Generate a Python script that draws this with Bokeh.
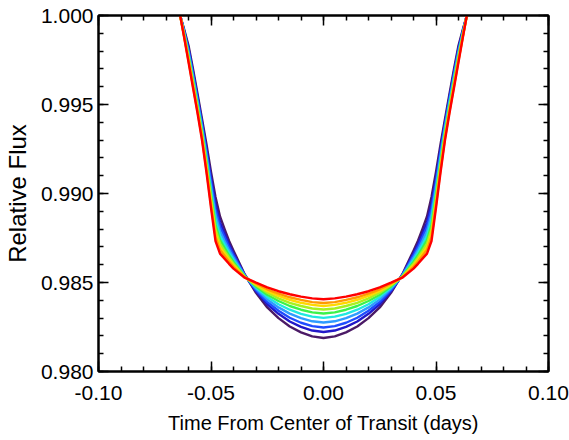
from bokeh.plotting import figure
from bokeh.models import Range1d, LinearAxis, SingleIntervalTicker, NumeralTickFormatter, CustomJSTickFormatter
from bokeh.embed import file_html
from bokeh.resources import INLINE

# Time from centre of transit (days)
time = [-0.0637, -0.062, -0.060, -0.058, -0.056, -0.054, -0.052, -0.050, -0.048, -0.046,
        -0.044, -0.042, -0.040, -0.035, -0.030, -0.025, -0.020, -0.015, -0.010, -0.005,
        0.000,
        0.005, 0.010, 0.015, 0.020, 0.025, 0.030, 0.035, 0.040, 0.042, 0.044,
        0.046, 0.048, 0.050, 0.052, 0.054, 0.056, 0.058, 0.060, 0.062, 0.0637]

flux_red = [1.00000, 0.99882, 0.99738, 0.99594, 0.99452, 0.99300, 0.99117, 0.98919, 0.98732, 0.98662,
            0.98634, 0.98605, 0.98578, 0.98527, 0.98499, 0.98473, 0.98451, 0.98434, 0.98421, 0.98411,
            0.98406,
            0.98411, 0.98421, 0.98434, 0.98451, 0.98473, 0.98499, 0.98527, 0.98578, 0.98605, 0.98634,
            0.98662, 0.98732, 0.98919, 0.99117, 0.99300, 0.99452, 0.99594, 0.99738, 0.99882, 1.00000]

flux_orange = [1.00000, 0.99886, 0.99747, 0.99604, 0.99462, 0.99311, 0.99132, 0.98938, 0.98756, 0.98682,
               0.98650, 0.98618, 0.98588, 0.98529, 0.98494, 0.98462, 0.98437, 0.98417, 0.98402, 0.98390,
               0.98385,
               0.98390, 0.98402, 0.98417, 0.98437, 0.98462, 0.98494, 0.98529, 0.98588, 0.98618, 0.98650,
               0.98682, 0.98756, 0.98938, 0.99132, 0.99311, 0.99462, 0.99604, 0.99747, 0.99886, 1.00000]

flux_yellow = [1.00000, 0.99889, 0.99754, 0.99612, 0.99471, 0.99321, 0.99145, 0.98954, 0.98775, 0.98698,
               0.98663, 0.98628, 0.98596, 0.98530, 0.98489, 0.98453, 0.98425, 0.98403, 0.98386, 0.98374,
               0.98368,
               0.98374, 0.98386, 0.98403, 0.98425, 0.98453, 0.98489, 0.98530, 0.98596, 0.98628, 0.98663,
               0.98698, 0.98775, 0.98954, 0.99145, 0.99321, 0.99471, 0.99612, 0.99754, 0.99889, 1.00000]

flux_lime = [1.00000, 0.99893, 0.99763, 0.99622, 0.99481, 0.99332, 0.99159, 0.98973, 0.98798, 0.98718,
             0.98678, 0.98640, 0.98605, 0.98532, 0.98484, 0.98443, 0.98411, 0.98386, 0.98368, 0.98354,
             0.98348,
             0.98354, 0.98368, 0.98386, 0.98411, 0.98443, 0.98484, 0.98532, 0.98605, 0.98640, 0.98678,
             0.98718, 0.98798, 0.98973, 0.99159, 0.99332, 0.99481, 0.99622, 0.99763, 0.99893, 1.00000]

flux_green = [1.00000, 0.99898, 0.99772, 0.99633, 0.99492, 0.99344, 0.99175, 0.98993, 0.98823, 0.98739,
              0.98695, 0.98653, 0.98615, 0.98534, 0.98478, 0.98431, 0.98396, 0.98368, 0.98347, 0.98332,
              0.98326,
              0.98332, 0.98347, 0.98368, 0.98396, 0.98431, 0.98478, 0.98534, 0.98615, 0.98653, 0.98695,
              0.98739, 0.98823, 0.98993, 0.99175, 0.99344, 0.99492, 0.99633, 0.99772, 0.99898, 1.00000]

flux_cyan = [1.00000, 0.99903, 0.99783, 0.99645, 0.99505, 0.99357, 0.99193, 0.99016, 0.98852, 0.98763,
             0.98715, 0.98668, 0.98627, 0.98536, 0.98472, 0.98419, 0.98378, 0.98347, 0.98324, 0.98308,
             0.98301,
             0.98308, 0.98324, 0.98347, 0.98378, 0.98419, 0.98472, 0.98536, 0.98627, 0.98668, 0.98715,
             0.98763, 0.98852, 0.99016, 0.99193, 0.99357, 0.99505, 0.99645, 0.99783, 0.99903, 1.00000]

flux_skyblue = [1.00000, 0.99908, 0.99794, 0.99657, 0.99517, 0.99372, 0.99212, 0.99040, 0.98881, 0.98788,
                0.98734, 0.98683, 0.98639, 0.98538, 0.98465, 0.98405, 0.98360, 0.98325, 0.98300, 0.98282,
                0.98275,
                0.98282, 0.98300, 0.98325, 0.98360, 0.98405, 0.98465, 0.98538, 0.98639, 0.98683, 0.98734,
                0.98788, 0.98881, 0.99040, 0.99212, 0.99372, 0.99517, 0.99657, 0.99794, 0.99908, 1.00000]

flux_blue = [1.00000, 0.99913, 0.99806, 0.99671, 0.99532, 0.99387, 0.99232, 0.99066, 0.98913, 0.98814,
             0.98756, 0.98700, 0.98652, 0.98540, 0.98457, 0.98391, 0.98341, 0.98302, 0.98274, 0.98255,
             0.98247,
             0.98255, 0.98274, 0.98302, 0.98341, 0.98391, 0.98457, 0.98540, 0.98652, 0.98700, 0.98756,
             0.98814, 0.98913, 0.99066, 0.99232, 0.99387, 0.99532, 0.99671, 0.99806, 0.99913, 1.00000]

flux_darkblue = [1.00000, 0.99918, 0.99816, 0.99683, 0.99544, 0.99400, 0.99250, 0.99090, 0.98941, 0.98838,
                 0.98775, 0.98715, 0.98663, 0.98542, 0.98451, 0.98378, 0.98324, 0.98281, 0.98251, 0.98230,
                 0.98222,
                 0.98230, 0.98251, 0.98281, 0.98324, 0.98378, 0.98451, 0.98542, 0.98663, 0.98715, 0.98775,
                 0.98838, 0.98941, 0.99090, 0.99250, 0.99400, 0.99544, 0.99683, 0.99816, 0.99918, 1.00000]

flux_purple = [1.00000, 0.99925, 0.99831, 0.99699, 0.99561, 0.99419, 0.99275, 0.99121, 0.98980, 0.98871,
               0.98801, 0.98735, 0.98679, 0.98545, 0.98442, 0.98360, 0.98300, 0.98253, 0.98220, 0.98197,
               0.98188,
               0.98197, 0.98220, 0.98253, 0.98300, 0.98360, 0.98442, 0.98545, 0.98679, 0.98735, 0.98801,
               0.98871, 0.98980, 0.99121, 0.99275, 0.99419, 0.99561, 0.99699, 0.99831, 0.99925, 1.00000]

curve_fluxes = [flux_purple, flux_darkblue, flux_blue, flux_skyblue, flux_cyan,
                flux_green, flux_lime, flux_yellow, flux_orange, flux_red]
curve_colors = ["#4b1a66", "#2218c8", "#1f4cff", "#2f9cff", "#20e8e0",
                "#3cf24a", "#a8f020", "#ffd800", "#ff9a00", "#ff0000"]

x_title = "Time From Center of Transit (days)"
y_title = "Relative Flux"

FONT = "Liberation Sans"

p = figure(width=569, height=440,
           x_range=Range1d(-0.1, 0.1), y_range=Range1d(0.98, 1.0),
           output_backend="svg", toolbar_location=None,
           min_border_left=96, min_border_right=21,
           min_border_top=15, min_border_bottom=69)
p.grid.visible = False
p.outline_line_color = "black"
p.outline_line_width = 2
p.background_fill_color = "white"
p.border_fill_color = "white"

for fl, col in zip(curve_fluxes, curve_colors):
    p.line(time, fl, line_color=col, line_width=2.4, line_join="round")

def style_axis(ax, labels=True):
    ax.axis_line_color = "black"
    ax.axis_line_width = 2
    ax.major_tick_line_color = "black"
    ax.minor_tick_line_color = "black"
    ax.major_tick_line_width = 1.5
    ax.minor_tick_line_width = 1.5
    ax.major_tick_in = 10
    ax.major_tick_out = 0
    ax.minor_tick_in = 5
    ax.minor_tick_out = 0
    if labels:
        ax.major_label_text_font = FONT
        ax.major_label_text_font_size = "21px"
        ax.major_label_text_color = "black"
        ax.axis_label_text_font = FONT
        ax.axis_label_text_font_style = "normal"
        ax.axis_label_text_color = "black"
    else:
        ax.formatter = CustomJSTickFormatter(code="return '';")
        ax.major_label_standoff = 0

xa = p.xaxis[0]
xa.ticker = SingleIntervalTicker(interval=0.05, num_minor_ticks=5)
xa.formatter = NumeralTickFormatter(format="0.00")
xa.axis_label = x_title
style_axis(xa)
xa.axis_label_text_font_size = "20px"
xa.major_label_standoff = 14
xa.axis_label_standoff = 9

ya = p.yaxis[0]
ya.ticker = SingleIntervalTicker(interval=0.005, num_minor_ticks=5)
ya.formatter = NumeralTickFormatter(format="0.000")
ya.axis_label = y_title
style_axis(ya)
ya.axis_label_text_font_size = "24px"
ya.major_label_standoff = 5
ya.axis_label_standoff = 7

top = LinearAxis(ticker=SingleIntervalTicker(interval=0.05, num_minor_ticks=5))
style_axis(top, labels=False)
p.add_layout(top, "above")

right = LinearAxis(ticker=SingleIntervalTicker(interval=0.005, num_minor_ticks=5))
style_axis(right, labels=False)
p.add_layout(right, "right")

open("out.html", "w").write(file_html(p, INLINE))
